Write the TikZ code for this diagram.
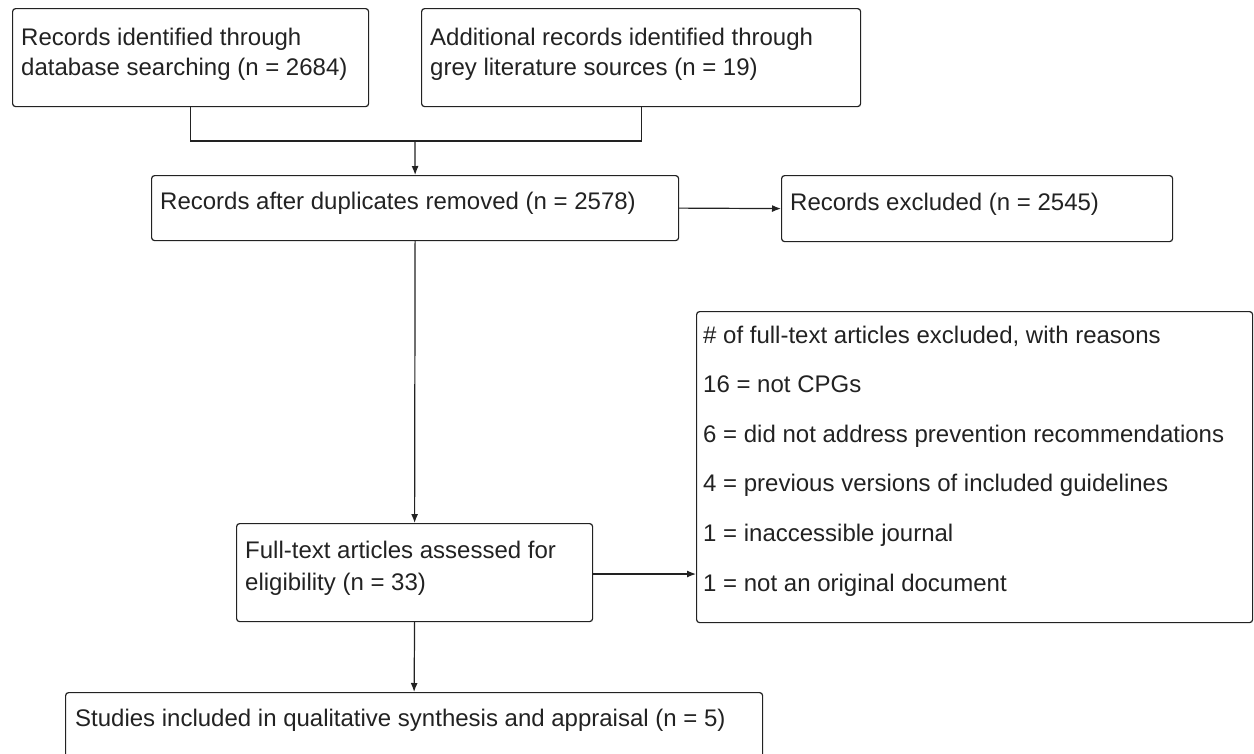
\documentclass[tikz,border=0pt]{standalone}
\usepackage{fontspec}
\setmainfont{Liberation Sans}
\usetikzlibrary{arrows.meta}
\definecolor{ink}{HTML}{222222}
\begin{document}
\begin{tikzpicture}[x=1pt,y=-1pt,
  box/.style={draw=ink, line width=1.2pt, rounded corners=3pt, inner sep=0pt, anchor=north west},
  txt/.style={anchor=base west, inner sep=0pt, text=ink, font=\fontsize{24}{29}\selectfont},
  link/.style={draw=ink, line width=1.2pt},
  arr/.style={link, -{Latex[length=9pt,width=7pt]}}]
\useasboundingbox (0,0) rectangle (1254,753);
% boxes
\node[box, minimum width=356pt, minimum height=98pt] (A) at (12,8) {};
\node[box, minimum width=439pt, minimum height=98pt] (B) at (421,8) {};
\node[box, minimum width=527pt, minimum height=65pt] (C) at (151,175) {};
\node[box, minimum width=391pt, minimum height=66pt] (D) at (781,175) {};
\node[box, minimum width=356pt, minimum height=98pt] (E) at (236,523) {};
\node[box, minimum width=556pt, minimum height=311pt] (G) at (696,311) {};
\node[box, minimum width=697pt, minimum height=98pt] (F) at (65,692) {};
% texts
\node[txt] (a1) at (21,45) {Records identified through};
\node[txt] (a2) at (21,75) {database searching (n = 2684)};
\node[txt] (b1) at (430,45) {Additional records identified through};
\node[txt] (b2) at (430,75) {grey literature sources (n = 19)};
\node[txt] (c1) at (160,209) {Records after duplicates removed (n = 2578)};
\node[txt] (d1) at (790,210) {Records excluded (n = 2545)};
\node[txt] (e1) at (245,558) {Full-text articles assessed for};
\node[txt] (e2) at (245,590) {eligibility (n = 33)};
\node[txt] (g1) at (703,343) {\# of full-text articles excluded, with reasons};
\node[txt] (g2) at (703,392.6) {16 = not CPGs};
\node[txt] (g3) at (703,442.2) {6 = did not address prevention recommendations};
\node[txt] (g4) at (703,491.8) {4 = previous versions of included guidelines};
\node[txt] (g5) at (703,541.4) {1 = inaccessible journal};
\node[txt] (g6) at (703,591) {1 = not an original document};
\node[txt] (f1) at (75,726) {Studies included in qualitative synthesis and appraisal (n = 5)};
% connectors
\coordinate (j) at (415,141);
\draw[link] (A.south) |- (j) -| (B.south);
\draw[arr] (j) -- (C.north);
\draw[arr] (C.east) -- (D.west);
\draw[arr] (C.south) -- (E.north);
\draw[arr] (E.east |- 0,574) -- (G.west |- 0,574);
\draw[arr] (E.south) -- (F.north);
\end{tikzpicture}
\end{document}
